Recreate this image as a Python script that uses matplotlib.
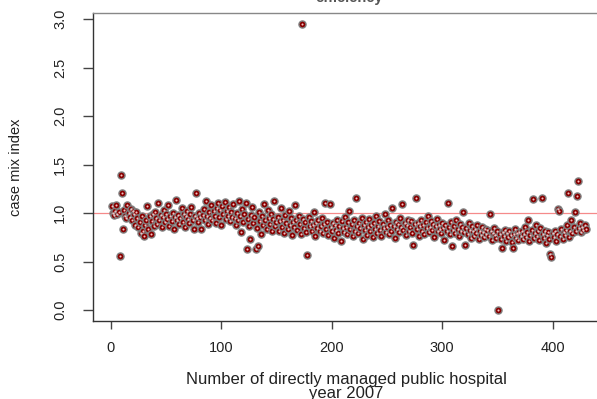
#!/usr/bin/env python3
# -*- coding: utf-8 -*-

import matplotlib
matplotlib.use('Agg')
import matplotlib.pyplot as plt
import numpy as np

# case mix index per hospital (index = position)
cmi = [
    1.07, 1.00, 0.98, 1.02, 1.08, 0.99, 1.01, 0.56, 1.39, 1.21,
    0.84, 1.03, 0.97, 0.95, 1.08, 1.00, 0.96, 1.04, 0.93, 1.02,
    0.99, 0.88, 1.01, 0.95, 0.86, 0.91, 0.79, 0.97, 0.82, 0.76,
    0.88, 0.93, 1.07, 0.84, 0.97, 0.78, 0.92, 0.99, 0.87, 1.01,
    0.95, 0.89, 1.10, 0.93, 0.98, 0.86, 0.96, 1.03, 0.91, 0.99,
    0.94, 1.08, 0.87, 0.97, 0.92, 1.00, 0.84, 0.96, 1.13, 0.93,
    0.98, 0.89, 0.95, 1.05, 0.91, 0.99, 0.86, 0.97, 1.02, 0.94,
    0.90, 0.99, 1.06, 0.93, 0.84, 0.97, 1.21, 0.95, 0.91, 1.00,
    0.96, 0.84, 0.98, 1.04, 0.93, 1.12, 0.97, 0.89, 1.01, 0.95,
    1.08, 0.93, 1.02, 0.97, 0.90, 1.05, 1.10, 0.96, 1.03, 0.88,
    1.07, 0.99, 1.11, 0.94, 1.02, 0.97, 1.06, 0.92, 1.01, 0.96,
    1.09, 0.95, 0.88, 1.00, 0.93, 1.12, 0.97, 0.80, 1.04, 0.91,
    0.99, 1.10, 0.63, 0.94, 0.87, 0.73, 0.98, 1.06, 0.90, 0.96,
    0.63, 0.85, 0.66, 1.01, 0.92, 0.78, 0.97, 0.88, 1.09, 0.93,
    0.84, 1.03, 0.95, 0.89, 0.99, 0.82, 0.94, 1.12, 0.87, 0.91,
    0.96, 0.81, 0.92, 1.05, 0.86, 0.93, 0.79, 0.98, 0.90, 0.84,
    1.02, 0.88, 0.95, 0.77, 0.91, 0.86, 1.08, 0.93, 0.83, 0.97,
    0.89, 0.78, 2.95, 0.94, 0.85, 0.91, 0.80, 0.57, 0.96, 0.87,
    0.92, 0.82, 0.88, 1.01, 0.76, 0.90, 0.85, 0.93, 0.81, 0.87,
    0.95, 0.79, 0.89, 1.10, 0.84, 0.91, 0.77, 1.09, 0.86, 0.82,
    0.90, 0.74, 0.88, 0.83, 0.93, 0.79, 0.87, 0.71, 0.92, 0.85,
    0.80, 0.96, 0.86, 0.78, 0.91, 1.02, 0.84, 0.89, 0.76, 0.93,
    0.82, 1.16, 0.87, 0.79, 0.90, 0.85, 0.95, 0.73, 0.88, 0.83,
    0.91, 0.77, 0.86, 0.94, 0.81, 0.88, 0.75, 0.90, 0.84, 0.97,
    0.79, 0.87, 0.92, 0.83, 0.76, 0.89, 0.85, 0.99, 0.80, 0.86,
    0.93, 0.78, 0.88, 0.82, 1.05, 0.87, 0.74, 0.91, 0.84, 0.89,
    0.80, 0.95, 0.86, 1.09, 0.83, 0.90, 0.77, 0.88, 0.93, 0.81,
    0.86, 0.92, 0.79, 0.67, 0.89, 1.16, 0.84, 0.90, 0.76, 0.87,
    0.93, 0.82, 0.88, 0.78, 0.91, 0.85, 0.97, 0.80, 0.86, 0.92,
    0.83, 0.89, 0.75, 0.87, 0.94, 0.81, 0.88, 0.84, 0.79, 0.90,
    0.85, 0.72, 0.88, 0.81, 1.10, 0.86, 0.78, 0.91, 0.66, 0.83,
    0.87, 0.79, 0.93, 0.84, 0.76, 0.89, 0.82, 0.86, 1.01, 0.80,
    0.67, 0.85, 0.78, 0.90, 0.83, 0.74, 0.87, 0.81, 0.76, 0.84,
    0.79, 0.88, 0.73, 0.82, 0.77, 0.86, 0.80, 0.75, 0.84, 0.78,
    0.83, 0.76, 0.99, 0.81, 0.72, 0.79, 0.85, 0.77, 0.74, 0.82,
    0.00, 0.78, 0.73, 0.64, 0.80, 0.76, 0.83, 0.71, 0.79, 0.75,
    0.81, 0.77, 0.70, 0.64, 0.78, 0.84, 0.74, 0.79, 0.72, 0.80,
    0.76, 0.82, 0.73, 0.78, 0.86, 0.75, 0.80, 0.93, 0.71, 0.77,
    0.83, 1.15, 0.74, 0.79, 0.88, 0.76, 0.81, 0.72, 0.85, 1.16,
    0.78, 0.74, 0.82, 0.69, 0.77, 0.80, 0.73, 0.58, 0.55, 0.79,
    0.75, 0.82, 0.71, 0.78, 1.04, 1.02, 0.76, 0.84, 0.73, 0.80,
    0.77, 0.83, 0.88, 1.21, 0.75, 0.81, 0.93, 0.79, 0.86, 1.01,
    0.82, 1.18, 1.33, 0.85, 0.90, 0.80, 0.86, 0.83, 0.88, 0.84,
]
ref_level = 1.0
x_ticks = [0, 100, 200, 300, 400]
y_ticks = [0.0, 0.5, 1.0, 1.5, 2.0, 2.5, 3.0]

title = 'efficiency'
x_label = 'Number of directly managed public hospital\nyear 2007'
y_label = 'case mix index'


def main():
    plt.rcParams['font.family'] = ['Liberation Sans', 'DejaVu Sans']

    y = np.array(cmi)
    n = len(y)
    x = np.arange(1, n + 1)

    fig = plt.figure(figsize=(5.97, 3.99), dpi=100)
    ax = fig.add_axes([0.1558, 0.1945, 0.857, 0.7737])

    # R style 4% padding on both axes
    dx = 0.04 * (n - 1)
    dy = 0.04 * (y.max() - y.min())
    ax.set_xlim(1 - dx, n + dx)
    ax.set_ylim(y.min() - dy, y.max() + dy)

    ax.axhline(ref_level, color='#f58a8a', lw=0.9, zorder=1)
    ax.scatter(x, y, s=26, facecolor='#880000', edgecolor='#808080',
               linewidths=1.0, zorder=2)
    ax.scatter(x, y, s=2.2, color='#f6c0c0', lw=0, zorder=3)

    for sp in ax.spines.values():
        sp.set_color('#333333')
        sp.set_linewidth(1.0)
    ax.spines['top'].set_color('#888888')

    ax.set_xticks(x_ticks)
    ax.set_yticks(y_ticks)
    ax.set_yticklabels(['%.1f' % v for v in y_ticks], rotation=90, va='center')
    ax.tick_params(axis='x', length=6, width=1, color='#444444', pad=8,
                   labelsize=10.5, labelcolor='#222222')
    ax.tick_params(axis='y', length=7.5, width=1, color='#444444', pad=11,
                   labelsize=10.5, labelcolor='#222222')

    ax.set_xlabel(x_label, fontsize=12, color='#222222', linespacing=0.9)
    ax.xaxis.set_label_coords(0.495, -0.163)
    ax.set_ylabel(y_label, fontsize=10.5, color='#222222', labelpad=22)
    ax.set_title(title, fontsize=10.5, fontweight='bold', color='#555555',
                 pad=8)

    fig.savefig('out.png', dpi=100)


if __name__ == '__main__':
    main()
